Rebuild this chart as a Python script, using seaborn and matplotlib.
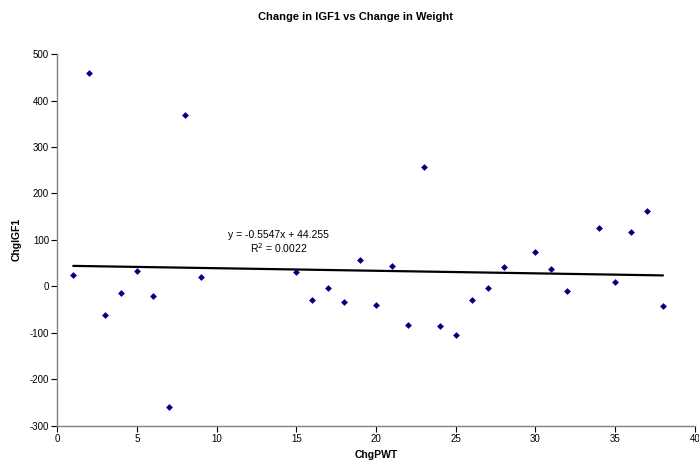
import numpy as np
import pandas as pd
import matplotlib
matplotlib.use("Agg")
import matplotlib.pyplot as plt
import seaborn as sns

# 数据：从图中读取
chg_pwt = [1, 2, 3, 4, 5, 6, 7, 8, 9, 15, 16, 17, 18, 19, 20, 21, 22, 23, 24, 25,
           26, 27, 28, 30, 31, 32, 34, 35, 36, 37, 38]
chg_igf1 = [24, 459, -61, -14, 34, -20, -259, 369, 20, 31, -30, -4, -33, 56, -40, 44,
            -82, 256, -86, -104, -29, -4, 41, 75, 37, -10, 126, 9, 117, 163, -42]
eq_text = "y = -0.5547x + 44.255"
r2_text = "R$^2$ = 0.0022"
x_ticks = list(range(0, 45, 5))
y_ticks = list(range(-300, 600, 100))

sns.set_theme(style="white")
plt.rcParams['font.family'] = ['Liberation Sans', 'DejaVu Sans']
plt.rcParams['axes.unicode_minus'] = False
plt.rcParams['text.color'] = 'black'
plt.rcParams['axes.labelcolor'] = 'black'

df = pd.DataFrame({'ChgPWT': chg_pwt, 'ChgIGF1': chg_igf1})

fig = plt.figure(figsize=(6.99, 4.70), dpi=100)
ax = fig.add_axes([0.082, 0.094, 0.912, 0.791])

sns.scatterplot(data=df, x='ChgPWT', y='ChgIGF1', marker='D', s=12,
                color='#000080', edgecolor='#000080', linewidth=0, ax=ax, zorder=3)
sns.regplot(data=df, x='ChgPWT', y='ChgIGF1', scatter=False, ci=None, truncate=True,
            line_kws={'color': 'black', 'linewidth': 1.6}, ax=ax)

ax.text(13.9, 110, eq_text, ha='center', va='center', fontsize=7.5)
ax.text(13.9, 82, r2_text, ha='center', va='center', fontsize=7.5)

ax.set_xlim(0, 40)
ax.set_ylim(-300, 500)
ax.set_xticks(x_ticks)
ax.set_yticks(y_ticks)
ax.tick_params(axis='both', labelsize=7, length=4, width=0.8, direction='out',
               bottom=True, left=True, pad=2, colors='black')
for side in ['top', 'right']:
    ax.spines[side].set_visible(False)
for side in ['left', 'bottom']:
    ax.spines[side].set_color('#808080')
    ax.spines[side].set_linewidth(1.0)

ax.set_xlabel('ChgPWT', fontsize=7.5, fontweight='bold', labelpad=4)
ax.set_ylabel('ChgIGF1', fontsize=7.5, fontweight='bold', labelpad=6)
fig.suptitle('Change in IGF1 vs Change in Weight', fontsize=8, fontweight='bold',
             x=0.508, y=0.975)

fig.savefig('out.png', dpi=100)
